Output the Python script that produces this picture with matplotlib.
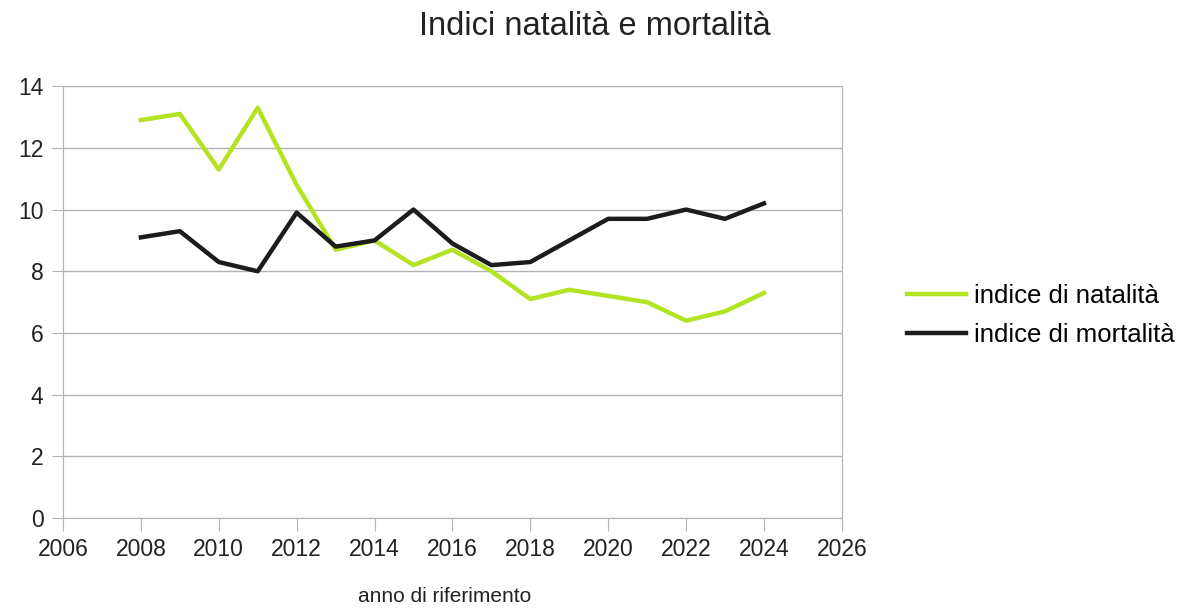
import matplotlib
matplotlib.use("Agg")
import matplotlib.pyplot as plt

plt.rcParams['font.family'] = ['Liberation Sans', 'DejaVu Sans']

years = [2008, 2009, 2010, 2011, 2012, 2013, 2014, 2015, 2016,
         2017, 2018, 2019, 2020, 2021, 2022, 2023, 2024]
natalita = [12.9, 13.1, 11.3, 13.3, 10.8, 8.7, 9.0, 8.2, 8.7,
            8.0, 7.1, 7.4, 7.2, 7.0, 6.4, 6.7, 7.3]
mortalita = [9.1, 9.3, 8.3, 8.0, 9.9, 8.8, 9.0, 10.0, 8.9,
             8.2, 8.3, 9.0, 9.7, 9.7, 10.0, 9.7, 10.2]

fig = plt.figure(figsize=(11.8, 6.11), dpi=100)
ax = fig.add_axes([0.0534, 0.152, 0.66, 0.707])

ax.plot(years, natalita, color="#b4e324", lw=3.2, label="indice di natalità")
ax.plot(years, mortalita, color="#1c1c1c", lw=3.2, label="indice di mortalità")

ax.set_xlim(2006, 2026)
ax.set_ylim(0, 14)
ax.set_xticks(range(2006, 2027, 2))
ax.set_yticks(range(0, 15, 2))
ax.grid(axis="y", color="#b3b3b3", lw=1)
ax.set_axisbelow(True)
for s in ax.spines.values():
    s.set_color("#b3b3b3")
ax.tick_params(axis="x", colors="#b3b3b3", length=9, labelcolor="#222222",
               labelsize=16.5, pad=5)
ax.tick_params(axis="y", colors="#b3b3b3", length=8, labelcolor="#222222",
               labelsize=16.5, pad=6)

ax.set_xlabel("anno di riferimento", fontsize=15, color="#222222")
ax.xaxis.set_label_coords(0.49, -0.16)
fig.text(0.504, 0.956, "Indici natalità e mortalità", fontsize=23.5,
         ha="center", va="center", color="#222222")

fig.legend(loc="center left", bbox_to_anchor=(0.7686, 0.484), frameon=False,
           fontsize=18.5, handlelength=2.3, handletextpad=0.3, labelspacing=0.6,
           borderpad=0, borderaxespad=0)

fig.savefig("out.png", dpi=100)
